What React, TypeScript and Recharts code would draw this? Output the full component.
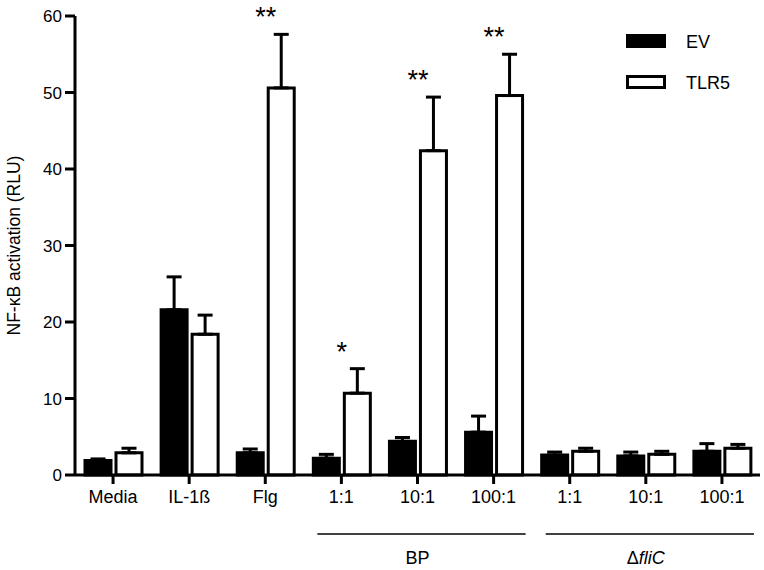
import React from 'react';
import { BarChart, Bar, XAxis, YAxis, ErrorBar, LabelList, Legend } from 'recharts';

// values
const categories = ['Media', 'IL-1ß', 'Flg', '1:1', '10:1', '100:1', '1:1', '10:1', '100:1'];
const groups = ['', '', '', 'BP', 'BP', 'BP', 'ΔfliC', 'ΔfliC', 'ΔfliC'];
const evValues = [1.9, 21.6, 2.9, 2.2, 4.4, 5.6, 2.6, 2.5, 3.1];
const evErrors = [0.2, 4.3, 0.5, 0.5, 0.5, 2.1, 0.4, 0.5, 1.0];
const tlr5Values = [2.9, 18.4, 50.6, 10.7, 42.4, 49.6, 3.1, 2.7, 3.5];
const tlr5Errors = [0.6, 2.5, 7.0, 3.2, 7.0, 5.4, 0.4, 0.4, 0.5];
const stars = ['', '', '**', '*', '**', '**', '', '', ''];
const yTicks = [0, 10, 20, 30, 40, 50, 60];

const data = categories.map((c, i) => ({
  id: `${i}`,
  label: c,
  group: groups[i],
  EV: evValues[i],
  evErr: [0, evErrors[i]],
  TLR5: tlr5Values[i],
  tlrErr: [0, tlr5Errors[i]],
  star: stars[i],
}));

const FONT = '"Liberation Sans", Arial, Helvetica, sans-serif';
const W = 764;
const H = 570;
const LEFT = 75;
const RIGHT = 4;
const BAND = (W - LEFT - RIGHT) / categories.length;

function XTick(props: any) {
  const { x, y, payload } = props;
  const i = Number(payload.value);
  const g = groups[i];
  const isMiddle = g !== '' && groups[i - 1] === g && groups[i + 1] === g;
  return (
    <g>
      <text x={x} y={y + 17} textAnchor="middle" fontSize={18} fontFamily={FONT} fill="#000">
        {categories[i]}
      </text>
      {isMiddle && (
        <g>
          <line x1={x - BAND - 24} x2={x + BAND + 32} y1={y + 48} y2={y + 48} stroke="#000" strokeWidth={1.5} />
          <text x={x} y={y + 78} textAnchor="middle" fontSize={18} fontFamily={FONT} fill="#000">
            {g.startsWith('Δ') ? (
              <>
                <tspan>Δ</tspan>
                <tspan fontStyle="italic">{g.slice(1)}</tspan>
              </>
            ) : (
              g
            )}
          </text>
        </g>
      )}
    </g>
  );
}

function StarLabel(props: any) {
  const { x, y, height, value, index } = props;
  if (!value) return null;
  const perUnit = height / tlr5Values[index];
  const capY = y - tlr5Errors[index] * perUnit;
  const cx = x - 2.5;
  return (
    <text x={cx} y={capY - 8} textAnchor="middle" fontSize={27} fontFamily={FONT} fill="#000">
      {value}
    </text>
  );
}

function LegendBox(props: any) {
  const { payload } = props;
  return (
    <svg width={140} height={70}>
      {payload.map((p: any, i: number) => (
        <g key={p.value}>
          <rect
            x={7.5}
            y={7.5 + i * 41}
            width={37}
            height={11}
            fill={p.value === 'EV' ? '#000' : '#fff'}
            stroke="#000"
            strokeWidth={3}
          />
          <text x={66} y={20 + i * 41} fontSize={18} fontFamily={FONT} fill="#000">
            {p.value}
          </text>
        </g>
      ))}
    </svg>
  );
}

export default function App() {
  return (
    <div style={{ position: 'absolute', left: 0, top: 0, background: '#fff' }}>
      <BarChart
        width={W}
        height={H}
        data={data}
        margin={{ top: 16, right: RIGHT, bottom: 0, left: 0 }}
        barSize={26}
        barGap={5}
      >
        <XAxis
          dataKey="id"
          height={95}
          tick={<XTick />}
          tickSize={9}
          axisLine={{ stroke: '#000', strokeWidth: 3 }}
          tickLine={{ stroke: '#000', strokeWidth: 3 }}
          interval={0}
        />
        <YAxis
          width={LEFT}
          domain={[0, 60]}
          ticks={yTicks}
          tickSize={10}
          tickMargin={3}
          axisLine={{ stroke: '#000', strokeWidth: 3 }}
          tickLine={{ stroke: '#000', strokeWidth: 3 }}
          tick={{ fill: '#000', fontSize: 17, fontFamily: FONT }}
          label={(p: any) => {
            const vb = p.viewBox;
            const cy = vb.y + vb.height / 2;
            return (
              <text
                x={14}
                y={cy}
                transform={`rotate(-90, 14, ${cy})`}
                textAnchor="middle"
                dominantBaseline="central"
                fontSize={17.5}
                fontFamily={FONT}
                fill="#000"
              >
                NF-κB activation (RLU)
              </text>
            );
          }}
        />
        <Legend
          layout="vertical"
          align="center"
          verticalAlign="middle"
          content={<LegendBox />}
          wrapperStyle={{ left: 620, top: 28, width: 140, height: 70 }}
        />
        <Bar dataKey="EV" fill="#000" stroke="#000" strokeWidth={3} isAnimationActive={false}>
          <ErrorBar dataKey="evErr" width={7.5} stroke="#000" strokeWidth={3} direction="y" />
        </Bar>
        <Bar dataKey="TLR5" fill="#fff" stroke="#000" strokeWidth={3} isAnimationActive={false}>
          <ErrorBar dataKey="tlrErr" width={7.5} stroke="#000" strokeWidth={3} direction="y" />
          <LabelList dataKey="star" content={<StarLabel />} />
        </Bar>
      </BarChart>
    </div>
  );
}
